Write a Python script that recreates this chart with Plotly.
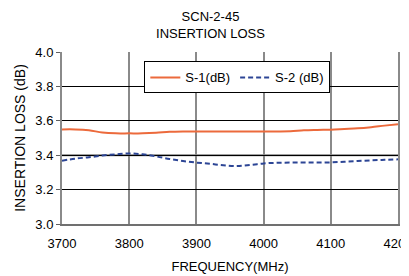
import plotly.graph_objects as go

freq = [3700, 3720, 3740, 3760, 3780, 3800, 3820, 3840, 3860, 3880, 3900, 3920, 3940,
        3960, 3980, 4000, 4020, 4040, 4060, 4080, 4100, 4120, 4140, 4160, 4180, 4200]
s1 = [3.550, 3.550, 3.545, 3.532, 3.527, 3.527, 3.527, 3.530, 3.536, 3.538, 3.538, 3.538, 3.538,
      3.538, 3.538, 3.538, 3.538, 3.539, 3.545, 3.547, 3.548, 3.552, 3.556, 3.563, 3.572, 3.580]
s2 = [3.368, 3.380, 3.388, 3.398, 3.405, 3.410, 3.405, 3.393, 3.378, 3.366, 3.357, 3.350, 3.342,
      3.337, 3.343, 3.352, 3.356, 3.357, 3.357, 3.357, 3.358, 3.362, 3.366, 3.370, 3.373, 3.376]
x_ticks = [3700, 3800, 3900, 4000, 4100, 4200]
y_ticks = [3.0, 3.2, 3.4, 3.6, 3.8, 4.0]

font = "Liberation Sans, Arial, sans-serif"

fig = go.Figure()
fig.add_trace(go.Scatter(x=freq, y=s1, mode="lines", name="S-1(dB)",
                         line=dict(color="#ec6a3c", width=2, shape="spline")))
fig.add_trace(go.Scatter(x=freq, y=s2, mode="lines", name="S-2 (dB)",
                         line=dict(color="#2c4595", width=2, dash="5px,3px", shape="spline")))

fig.add_shape(type="line", xref="paper", x0=0, x1=1, yref="y", y0=3.4, y1=3.4,
              line=dict(color="#808080", width=2), layer="below")

fig.update_layout(
    width=401, height=268,
    margin=dict(l=54, r=11, t=44, b=52),
    paper_bgcolor="white", plot_bgcolor="white",
    font=dict(family=font, size=12, color="black"),
    title=dict(text="SCN-2-45<br>INSERTION LOSS", x=0.505, xanchor="center",
               y=0.952, yanchor="top", font=dict(size=13)),
    showlegend=True,
    legend=dict(orientation="h", x=0.245, y=0.945, xanchor="left", yanchor="top",
                bgcolor="white", bordercolor="black", borderwidth=1,
                font=dict(size=13), tracegroupgap=0, itemwidth=30),
    xaxis=dict(range=[3700, 4200], tickvals=x_ticks, ticktext=[str(v) for v in x_ticks],
               showgrid=True, gridcolor="#8a8a8a", gridwidth=2,
               showline=True, linecolor="#707070", linewidth=2,
               ticks="", tickfont=dict(size=13), automargin=False,
               ticklabeloverflow="allow", ticklabelstandoff=6,
               title=dict(text="FREQUENCY(MHz)", font=dict(size=13), standoff=12),
               zeroline=False),
    yaxis=dict(range=[3.0, 4.0], tickvals=y_ticks, ticktext=[f"{v:.1f}" for v in y_ticks],
               showgrid=True, gridcolor="black", gridwidth=1,
               showline=True, linecolor="#8a8a8a", linewidth=2, mirror=True,
               ticks="outside", ticklen=4, tickcolor="#606060",
               tickfont=dict(size=13), automargin=False,
               title=dict(text="INSERTION LOSS (dB)", font=dict(size=14), standoff=6),
               zeroline=False),
)

fig.write_html("out.html")
